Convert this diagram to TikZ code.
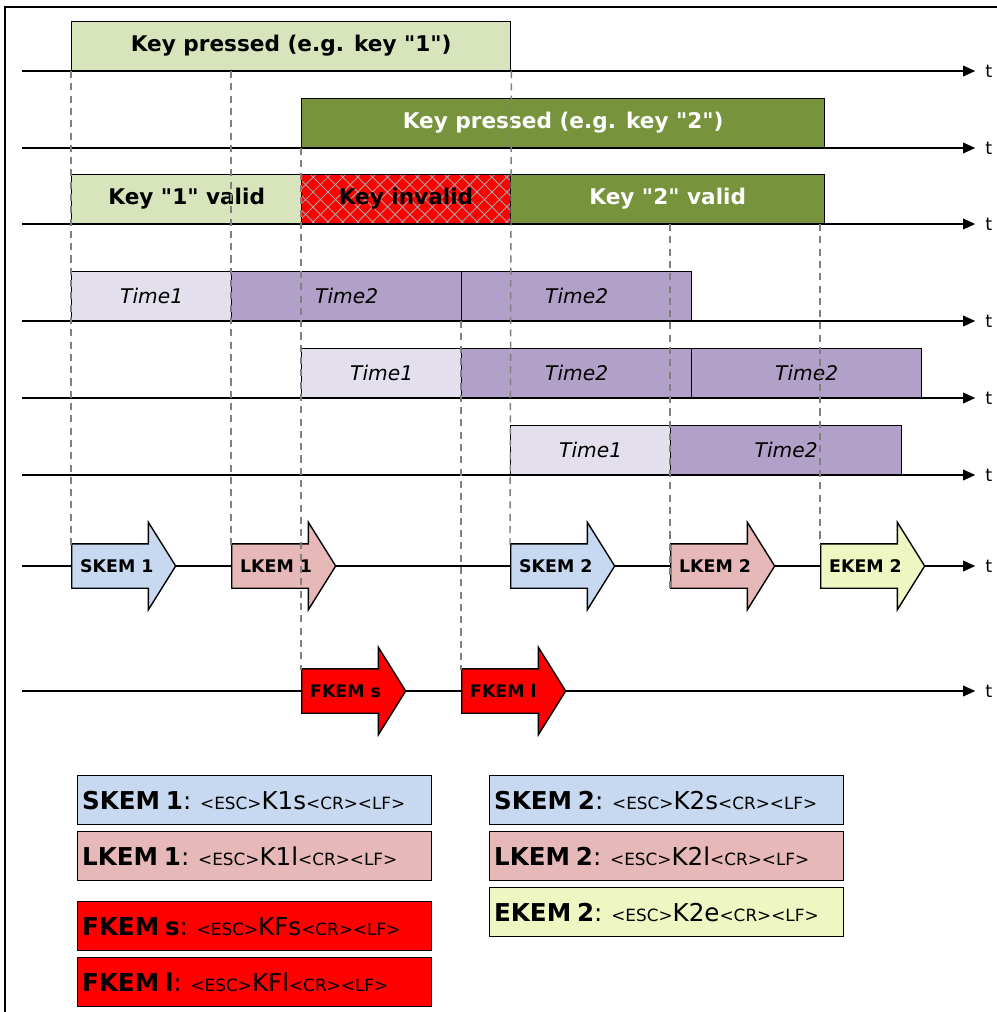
\documentclass[tikz,border=0pt]{standalone}
\usepackage{fontspec}
\setmainfont{DejaVu Sans}[Ligatures=TeXOff]
\usetikzlibrary{shapes.arrows,arrows.meta,patterns.meta}

\definecolor{keylight}{HTML}{D8E4BC}
\definecolor{keydark}{HTML}{77933C}
\definecolor{timelight}{HTML}{E4DFEC}
\definecolor{timedark}{HTML}{B1A0C7}
\definecolor{skemc}{HTML}{C6D9F1}
\definecolor{lkemc}{HTML}{E6B9B8}
\definecolor{ekemc}{HTML}{EEF6C2}
\definecolor{guidegray}{HTML}{808080}

\tikzset{
  slot/.style={draw=black, line width=0.8pt, minimum height=0.98cm, inner sep=0pt, anchor=south west},
  keytxt/.style={font=\fontsize{12.3}{14}\selectfont\bfseries},
  timetxt/.style={font=\fontsize{11.5}{13}\selectfont\itshape},
  invalid/.style={preaction={fill=red},
    preaction={pattern={Lines[angle=45,distance=6pt,line width=0.5pt]}, pattern color=gray!70},
    pattern={Lines[angle=-45,distance=6pt,line width=0.5pt]}, pattern color=gray!70},
  axis/.style={line width=1.1pt, -{Triangle[length=7pt,width=6pt]}, shorten >=5.5pt},
  guide/.style={guidegray, line width=0.8pt, dash pattern=on 4pt off 3pt},
  kemarrow/.style={single arrow, draw=black, line width=0.8pt, anchor=tail,
    minimum height=2.08cm, inner xsep=0pt, inner ysep=0.43cm,
    single arrow head extend=0.43cm, single arrow tip angle=116},
  kemtxt/.style={font=\fontsize{9.9}{11}\selectfont\bfseries, inner sep=0pt, anchor=west},
  legbox/.style={draw=black, line width=0.8pt, anchor=north west, minimum height=0.98cm,
    text width=6.9cm, align=left, inner xsep=2.5pt},
  tlabel/.style={font=\fontsize{10}{12}\selectfont, inner sep=0pt, anchor=west},
}

% one bar of a time line: name, style, x from, x to, axis y, text
\newcommand{\tslot}[6]{\node[slot, #2, minimum width={(#4-#3)*0.02cm}] (#1) at (#3,#5) {#6};}
% key event message arrow: name, colour, x, y, text
\newcommand{\kem}[5]{%
  \node[kemarrow, fill=#2] (#1) at (#3,#4) {};
  \node[kemtxt] (#1-txt) at ([xshift=5pt]#1.tail) {#5};
  \coordinate (#1-top) at ([yshift=.43cm]#1.tail);
  \coordinate (#1-bot) at ([yshift=-.43cm]#1.tail);}
% legend text
\newcommand{\kemcode}[2]{{\fontsize{14}{16}\selectfont\bfseries #1}{\fontsize{14}{16}\selectfont:} {\fontsize{9.6}{10}\selectfont <ESC>}{\fontsize{14}{16}\selectfont #2}{\fontsize{9.6}{10}\selectfont <CR><LF>}}

\begin{document}
\begin{tikzpicture}[x=0.02cm, y=-0.02cm]
  \useasboundingbox (0,0) rectangle (997,1012);
  \draw[line width=0.8pt] (5,1012) -- (5,7) -- (997,7);

  % time axes
  \foreach \n/\y in {1/71,2/148,3/224,4/321,5/398,6/475,7/566,8/691}{
    \coordinate (a\n) at (22,\y);
    \node[tlabel] (tl\n) at (985,\y) {t};
    \draw[axis] (a\n) -- (tl\n.west);
  }

  % keys
  \tslot{kp1}{fill=keylight, keytxt}{71}{510}{71}{Key pressed (e.g. key "1")}
  \tslot{kp2}{fill=keydark, keytxt, text=white}{301}{824}{148}{Key pressed (e.g. key "2")}
  \tslot{v1}{fill=keylight, keytxt}{71}{301}{224}{Key "1" valid}
  \tslot{inv}{invalid, keytxt}{301}{510}{224}{Key invalid}
  \tslot{v2}{fill=keydark, keytxt, text=white}{510}{824}{224}{Key "2" valid}

  % timers
  \tslot{t1a}{fill=timelight, timetxt}{71}{231}{321}{Time1}
  \tslot{t2a}{fill=timedark, timetxt}{231}{461}{321}{Time2}
  \tslot{t2b}{fill=timedark, timetxt}{461}{691}{321}{Time2}
  \tslot{t1b}{fill=timelight, timetxt}{301}{461}{398}{Time1}
  \tslot{t2c}{fill=timedark, timetxt}{461}{691}{398}{Time2}
  \tslot{t2d}{fill=timedark, timetxt}{691}{921}{398}{Time2}
  \tslot{t1c}{fill=timelight, timetxt}{510}{670}{475}{Time1}
  \tslot{t2e}{fill=timedark, timetxt}{670}{901}{475}{Time2}

  % messages
  \kem{s1}{skemc}{71}{566}{SKEM 1}
  \kem{l1}{lkemc}{231}{566}{LKEM 1}
  \kem{s2}{skemc}{510}{566}{SKEM 2}
  \kem{l2}{lkemc}{670}{566}{LKEM 2}
  \kem{e2}{ekemc}{820}{566}{EKEM 2}
  \kem{fs}{red}{301}{691}{FKEM s}
  \kem{fl}{red}{461}{691}{FKEM l}

  % guide lines
  \draw[guide] (kp1.south west) -- (s1-top);
  \draw[guide] (l1-top |- a1) -- (l1-top);
  \draw[guide] (kp2.south west) -- (fs-top);
  \draw[guide] (t2b.south west) -- (fl-top);
  \draw[guide] (kp1.south east) -- (s2-top);
  \draw[guide] (l2-top |- a3) -- ([yshift=-3pt]l2-bot);
  \draw[guide] (e2-top |- a3) -- (e2-top);

  % legend
  \node[legbox, fill=skemc] (lg-s1) at (77,775) {\kemcode{SKEM 1}{K1s}};
  \node[legbox, fill=lkemc] (lg-l1) at (77,831) {\kemcode{LKEM 1}{K1l}};
  \node[legbox, fill=red] (lg-fs) at (77,901) {\kemcode{FKEM s}{KFs}};
  \node[legbox, fill=red] (lg-fl) at (77,957) {\kemcode{FKEM l}{KFl}};
  \node[legbox, fill=skemc] (lg-s2) at (489,775) {\kemcode{SKEM 2}{K2s}};
  \node[legbox, fill=lkemc] (lg-l2) at (489,831) {\kemcode{LKEM 2}{K2l}};
  \node[legbox, fill=ekemc] (lg-e2) at (489,887) {\kemcode{EKEM 2}{K2e}};
\end{tikzpicture}
\end{document}
